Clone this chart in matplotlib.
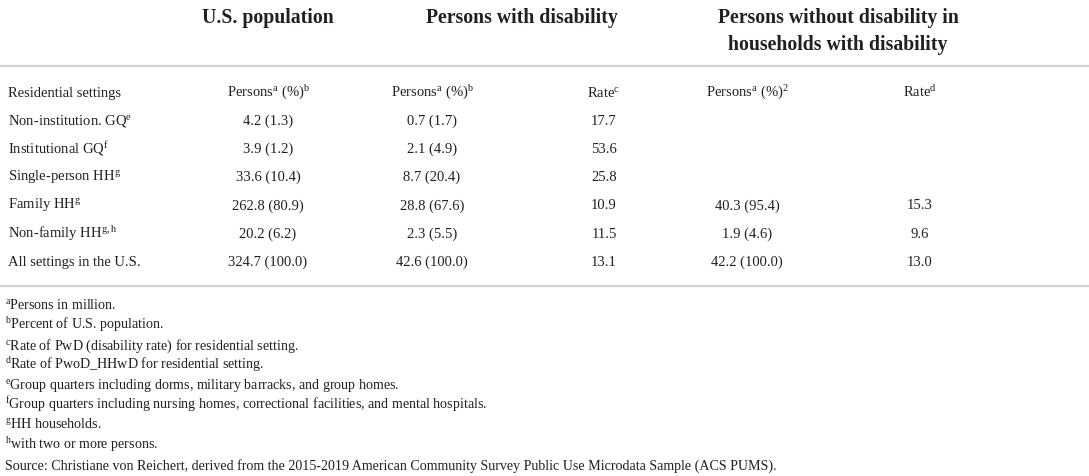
import matplotlib.pyplot as plt
from matplotlib.lines import Line2D

plt.rcParams['font.family'] = ['Liberation Serif', 'DejaVu Serif']
plt.rcParams['mathtext.fontset'] = 'custom'
plt.rcParams['mathtext.rm'] = 'Liberation Serif'
plt.rcParams['mathtext.it'] = 'Liberation Serif:italic'

W, H = 1089, 477

# table content
group_titles = ["U.S. population", "Persons with disability",
                "Persons without disability in", "households with disability"]
sub_headers = ["Residential settings",
               r"Persons$^{\mathrm{a}}$ (%)$^{\mathrm{b}}$",
               r"Persons$^{\mathrm{a}}$ (%)$^{\mathrm{b}}$",
               r"Rate$^{\mathrm{c}}$",
               r"Persons$^{\mathrm{a}}$ (%)$^{2}$",
               r"Rate$^{\mathrm{d}}$"]
settings = [r"Non-institution. GQ$^{\mathrm{e}}$",
            r"Institutional GQ$^{\mathrm{f}}$",
            r"Single-person HH$^{\mathrm{g}}$",
            r"Family HH$^{\mathrm{g}}$",
            r"Non-family HH$^{\mathrm{g,h}}$",
            "All settings in the U.S."]
us_pop = ["4.2 (1.3)", "3.9 (1.2)", "33.6 (10.4)", "262.8 (80.9)", "20.2 (6.2)", "324.7 (100.0)"]
pwd_persons = ["0.7 (1.7)", "2.1 (4.9)", "8.7 (20.4)", "28.8 (67.6)", "2.3 (5.5)", "42.6 (100.0)"]
pwd_rate = ["17.7", "53.6", "25.8", "10.9", "11.5", "13.1"]
pwod_persons = ["", "", "", "40.3 (95.4)", "1.9 (4.6)", "42.2 (100.0)"]
pwod_rate = ["", "", "", "15.3", "9.6", "13.0"]
footnotes = [r"$^{\mathrm{a}}$Persons in million.",
             r"$^{\mathrm{b}}$Percent of U.S. population.",
             r"$^{\mathrm{c}}$Rate of PwD (disability rate) for residential setting.",
             r"$^{\mathrm{d}}$Rate of PwoD_HHwD for residential setting.",
             r"$^{\mathrm{e}}$Group quarters including dorms, military barracks, and group homes.",
             r"$^{\mathrm{f}}$Group quarters including nursing homes, correctional facilities, and mental hospitals.",
             r"$^{\mathrm{g}}$HH households.",
             r"$^{\mathrm{h}}$with two or more persons.",
             "Source: Christiane von Reichert, derived from the 2015-2019 American Community Survey Public Use Microdata Sample (ACS PUMS)."]

fig = plt.figure(figsize=(W / 100, H / 100), dpi=100)
fig.patch.set_facecolor('white')
INK = '#231f20'


def put(x, y, s, **kw):
    # y is the pixel row of the text's middle; place by baseline so that
    # strings with and without superscripts line up
    fs = kw.get('fontsize', 10)
    kw.setdefault('color', INK)
    yb = y + fs * 100 / 72 * 0.32
    fig.text(x / W, 1 - yb / H, s, va='baseline', **kw)


def hline(y):
    fig.add_artist(Line2D([0, 1], [1 - y / H, 1 - y / H], color='#d2d2d2', lw=1.6))


# group titles (pixel positions)
title_fs = 14.2
put(268, 17, group_titles[0], ha='center', fontsize=title_fs, fontweight='bold')
put(522, 17, group_titles[1], ha='center', fontsize=title_fs, fontweight='bold')
put(838, 17, group_titles[2], ha='center', fontsize=title_fs, fontweight='bold')
put(838, 44, group_titles[3], ha='center', fontsize=title_fs, fontweight='bold')

hline(67)

col_x = [8, 268, 432, 604, 747, 920]
row_y = [92, 120.2, 148.4, 176.6, 204.8, 233, 261]
fs = 10.5

for i, s in enumerate(sub_headers):
    put(col_x[i], row_y[0], s, ha='left' if i == 0 else 'center', fontsize=fs)

columns = [settings, us_pop, pwd_persons, pwd_rate, pwod_persons, pwod_rate]
for c, vals in enumerate(columns):
    for r, v in enumerate(vals):
        if v:
            put(col_x[c], row_y[r + 1], v, ha='left' if c == 0 else 'center', fontsize=fs)

hline(287)

foot_y0, foot_dy = 305, 20
for k, s in enumerate(footnotes):
    put(5, foot_y0 + k * foot_dy, s, ha='left', fontsize=10.1)

fig.savefig('out.png', dpi=100, facecolor='white')
